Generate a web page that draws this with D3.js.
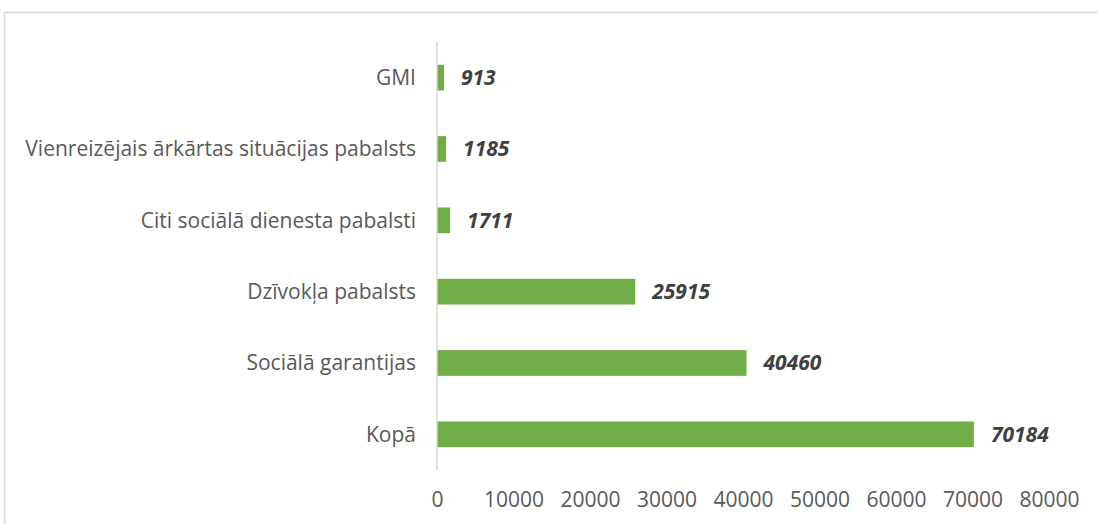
<!DOCTYPE html>
<html>
  <head>
    <meta charset="UTF-8" />
    <script src="https://cdnjs.cloudflare.com/ajax/libs/d3/7.8.5/d3.min.js"></script>
    <style>
      body { margin: 0; background: #fff; }
      text { font-family: "Open Sans", "Liberation Sans", sans-serif; }
      .cat text { fill: #595959; font-size: 21px; }
      .tick text { fill: #595959; font-size: 21px; }
      .val { fill: #404040; font-size: 21px; font-weight: bold; font-style: italic; }
      rect.bar { fill: #70ad47; }
    </style>
  </head>
  <body>
    <svg id="chart" width="1098" height="524"></svg>
    <script>
      var categories = [
        "GMI",
        "Vienreizējais ārkārtas situācijas pabalsts",
        "Citi sociālā dienesta pabalsti",
        "Dzīvokļa pabalsts",
        "Sociālā garantijas",
        "Kopā"
      ];
      var values = [913, 1185, 1711, 25915, 40460, 70184];
      var xTicks = [0, 10000, 20000, 30000, 40000, 50000, 60000, 70000, 80000];

      var svg = d3.select("#chart");

      // chart border
      svg.append("rect")
        .attr("x", 4.5).attr("y", 12.5)
        .attr("width", 1200).attr("height", 600)
        .attr("fill", "none")
        .attr("stroke", "#d9d9d9")
        .attr("stroke-width", 1.5);

      var x = d3.scaleLinear().domain([0, 80000]).range([437, 1049]);
      var y = d3.scaleBand().domain(categories).range([42, 470])
        .paddingInner(0.64).paddingOuter(0.32);

      svg.selectAll("rect.bar")
        .data(values)
        .enter()
        .append("rect")
        .attr("class", "bar")
        .attr("x", x(0))
        .attr("y", (d, i) => y(categories[i]))
        .attr("width", d => x(d) - x(0))
        .attr("height", y.bandwidth());

      // vertical axis line
      svg.append("line")
        .attr("x1", x(0)).attr("x2", x(0))
        .attr("y1", 42).attr("y2", 470)
        .attr("stroke", "#d9d9d9")
        .attr("stroke-width", 1.5);

      svg.append("g")
        .attr("class", "cat")
        .selectAll("text")
        .data(categories)
        .enter()
        .append("text")
        .attr("x", 416)
        .attr("y", d => y(d) + y.bandwidth() / 2)
        .attr("dy", "0.35em")
        .attr("text-anchor", "end")
        .text(d => d);

      svg.selectAll("text.val")
        .data(values)
        .enter()
        .append("text")
        .attr("class", "val")
        .attr("x", d => x(d) + 17)
        .attr("y", (d, i) => y(categories[i]) + y.bandwidth() / 2)
        .attr("dy", "0.35em")
        .text(d => d);

      var xAxis = d3.axisBottom(x).tickValues(xTicks).tickSize(0).tickPadding(0)
        .tickFormat(d3.format("d"));
      svg.append("g")
        .attr("transform", "translate(0,492)")
        .call(xAxis)
        .call(g => g.select(".domain").remove());
    </script>
  </body>
</html>
